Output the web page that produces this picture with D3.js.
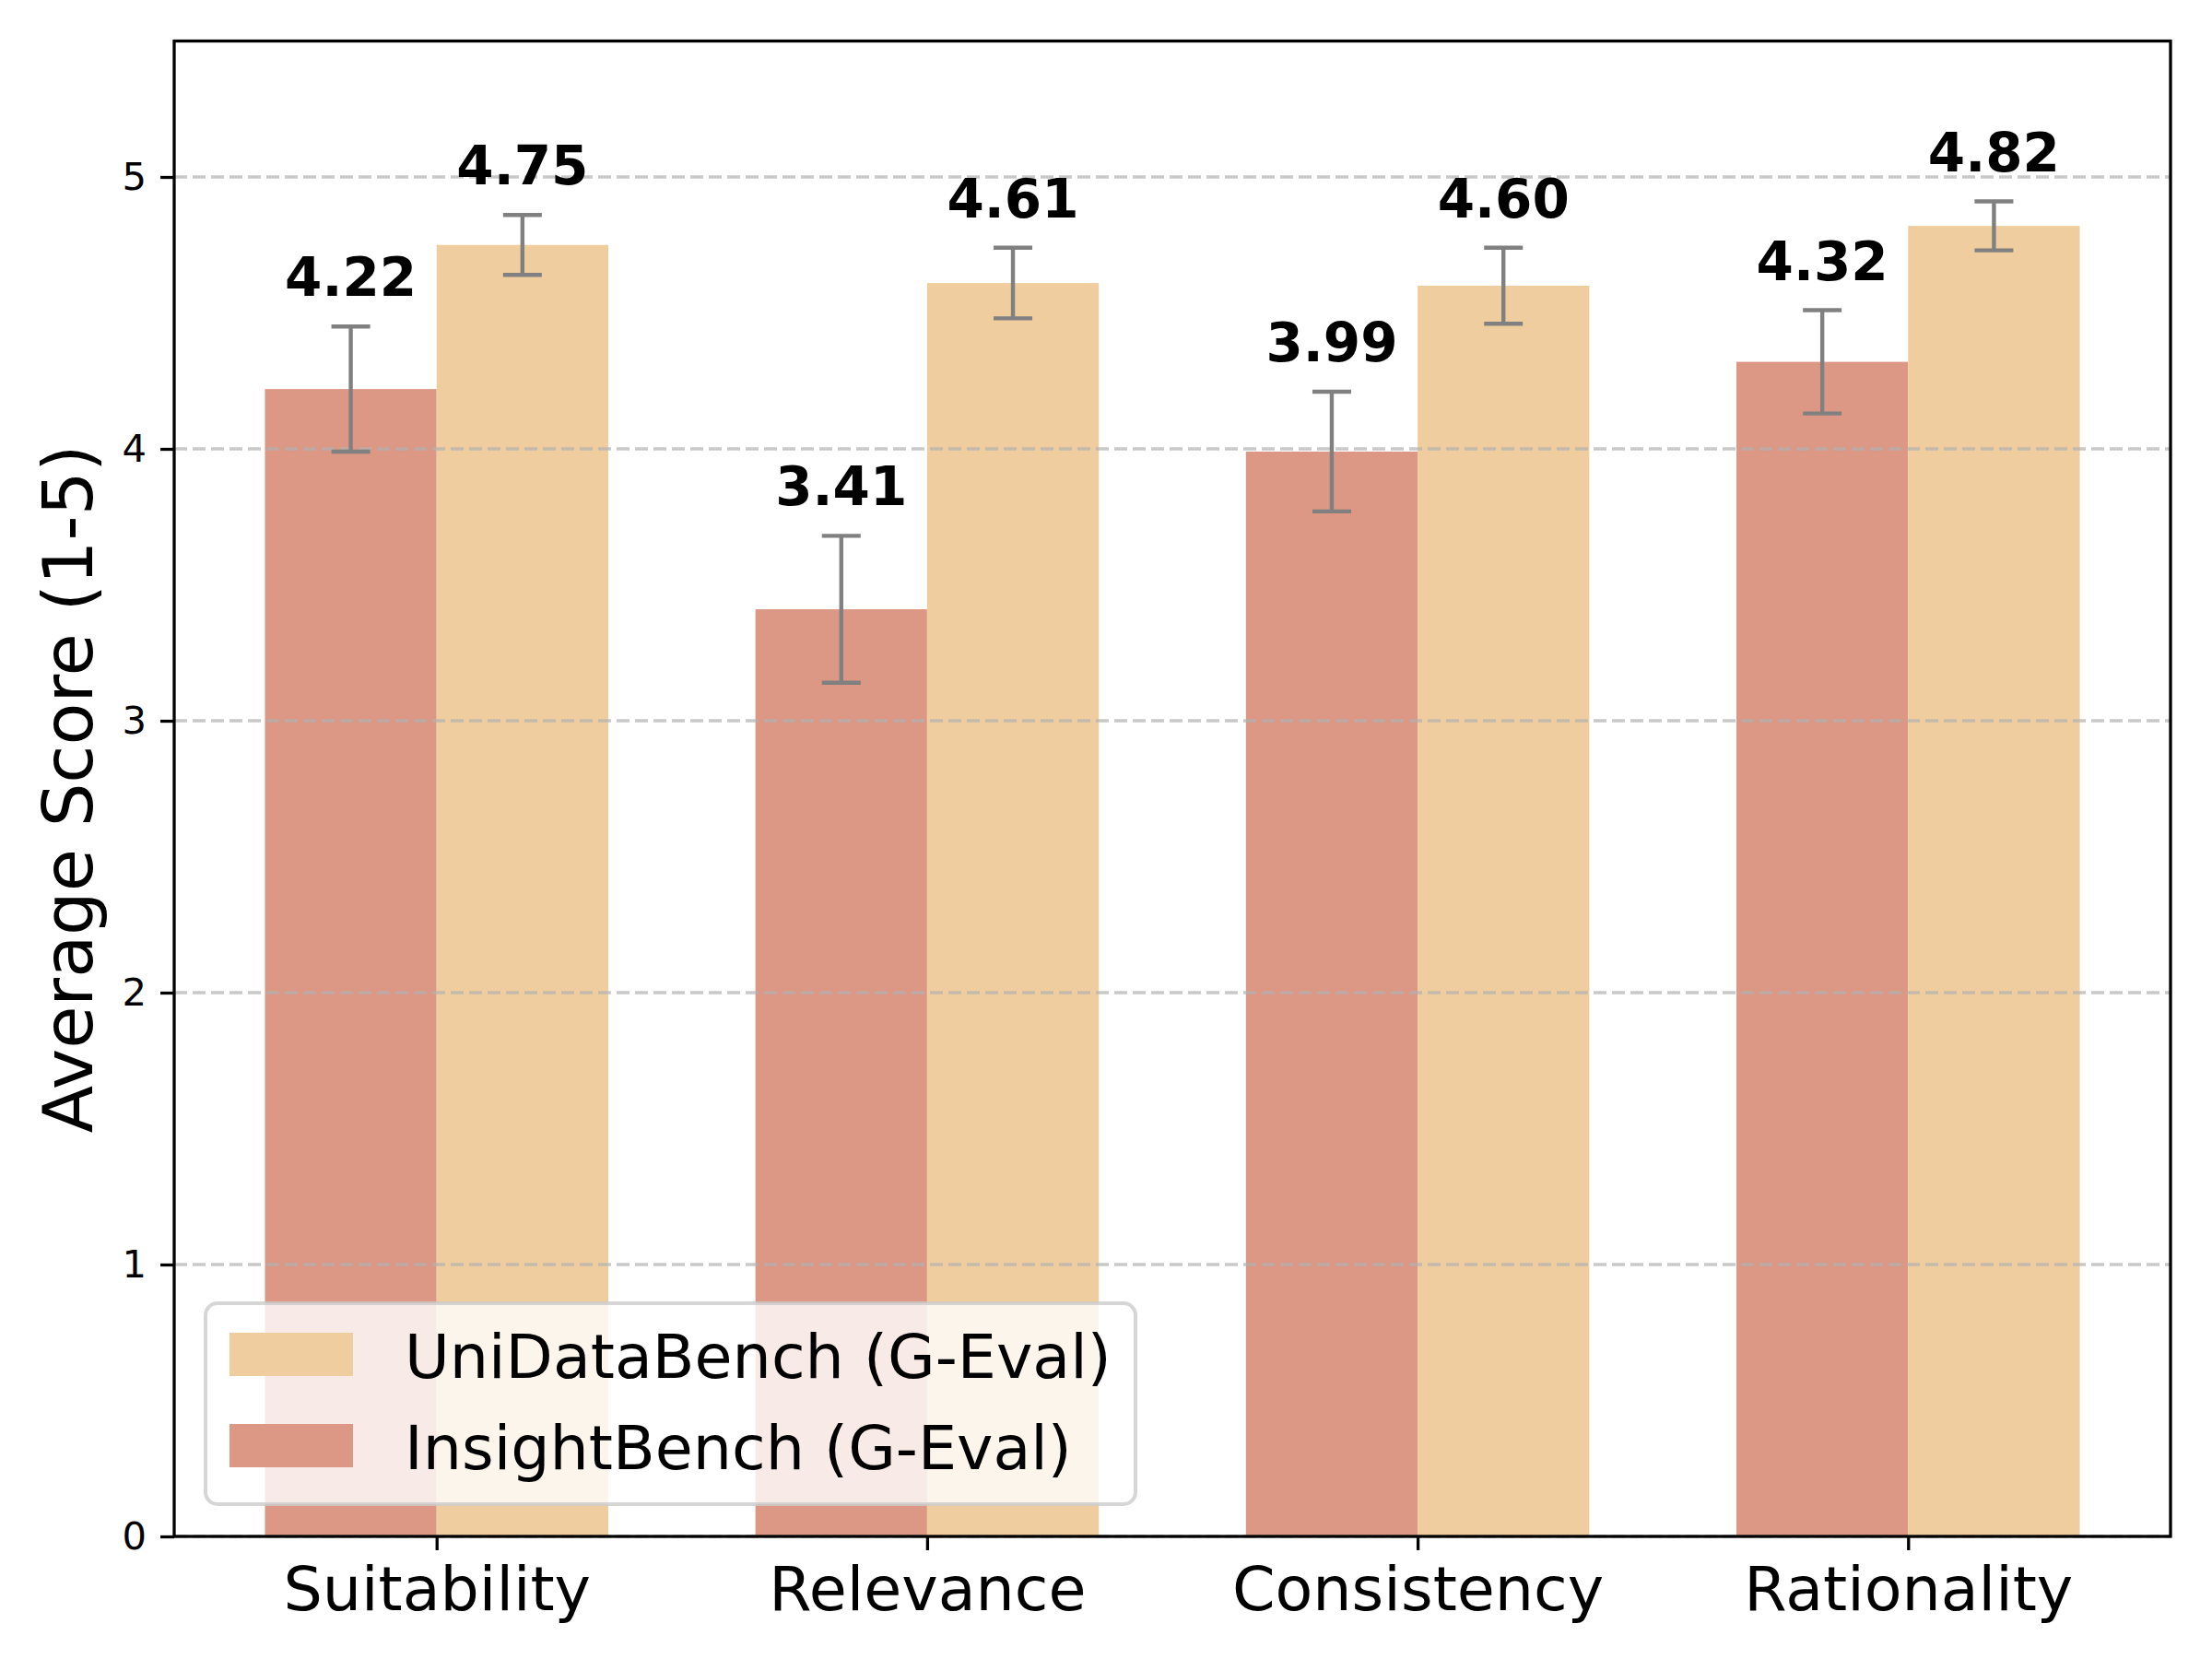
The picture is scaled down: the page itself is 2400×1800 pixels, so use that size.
<!DOCTYPE html>
<html>
<head>
<meta charset="utf-8">
<script src="https://cdn.jsdelivr.net/npm/d3@7"></script>
<style>
  body { margin: 0; background: #fff; }
  text { font-family: "DejaVu Sans", sans-serif; }
</style>
</head>
<body>
<div id="chart"></div>
<script>
const width = 2400;
const height = 1800;
const margin = {top: 44.5, right: 45, bottom: 133, left: 189};

const categories = ["Suitability", "Relevance", "Consistency", "Rationality"];
const insightScores = [4.22, 3.41, 3.99, 4.32];
const insightErr = [0.23, 0.27, 0.22, 0.19];
const uniScores = [4.75, 4.61, 4.60, 4.82];
const uniErr = [0.11, 0.13, 0.14, 0.09];
const yTicks = [0, 1, 2, 3, 4, 5];
const seriesNames = ["UniDataBench (G-Eval)", "InsightBench (G-Eval)"];

const red = "#dc9785";
const yellow = "#f0cd9e";
const barWidth = 0.35;

const svg = d3.select("#chart").append("svg")
  .attr("width", width)
  .attr("height", height);

const x = d3.scaleLinear().domain([-0.535, 3.535]).range([margin.left, width - margin.right]);
const y = d3.scaleLinear().domain([0, 5.5]).range([height - margin.bottom, margin.top]);

const series = [
  {name: seriesNames[1], values: insightScores, err: insightErr, color: red, offset: -barWidth},
  {name: seriesNames[0], values: uniScores, err: uniErr, color: yellow, offset: 0}
];

// bars
series.forEach(s => {
  svg.append("g").selectAll("rect")
    .data(s.values)
    .join("rect")
    .attr("x", (d, i) => x(i + s.offset))
    .attr("y", d => y(d))
    .attr("width", x(barWidth) - x(0))
    .attr("height", d => y(0) - y(d))
    .attr("fill", s.color);
});

// grid (on top of bars, like the original)
svg.append("g").selectAll("line")
  .data(yTicks)
  .join("line")
  .attr("x1", x.range()[0])
  .attr("x2", x.range()[1])
  .attr("y1", d => y(d))
  .attr("y2", d => y(d))
  .attr("stroke", "#b0b0b0")
  .attr("stroke-opacity", 0.7)
  .attr("stroke-width", 3.3)
  .attr("stroke-dasharray", "14 6");

// error bars + value labels
const capHalf = 21;
series.forEach(s => {
  const g = svg.append("g");
  s.values.forEach((v, i) => {
    const cx = x(i + s.offset + barWidth / 2);
    const e = s.err[i];
    g.append("line")
      .attr("x1", cx).attr("x2", cx)
      .attr("y1", y(v - e)).attr("y2", y(v + e))
      .attr("stroke", "#808080").attr("stroke-width", 4.4);
    [v - e, v + e].forEach(t => {
      g.append("line")
        .attr("x1", cx - capHalf).attr("x2", cx + capHalf)
        .attr("y1", y(t)).attr("y2", y(t))
        .attr("stroke", "#808080").attr("stroke-width", 4.4);
    });
    g.append("text")
      .attr("x", cx)
      .attr("y", y(v + e) - 33)
      .attr("text-anchor", "middle")
      .style("font-size", "58px")
      .style("font-weight", "bold")
      .attr("fill", "#000")
      .text(v.toFixed(2));
  });
});

// axes
const yAxis = svg.append("g")
  .attr("transform", `translate(${margin.left},0)`)
  .call(d3.axisLeft(y).tickValues(yTicks).tickFormat(d3.format("d")).tickSize(15).tickPadding(15));
yAxis.select(".domain").remove();
yAxis.selectAll(".tick line").attr("stroke-width", 3.3);
yAxis.selectAll(".tick text").style("font-size", "41.7px").attr("font-family", "DejaVu Sans").attr("fill", "#000");

const xAxis = svg.append("g")
  .attr("transform", `translate(0,${height - margin.bottom})`)
  .call(d3.axisBottom(x).tickValues(d3.range(categories.length)).tickFormat(i => categories[i]).tickSize(15).tickPadding(15));
xAxis.select(".domain").remove();
xAxis.selectAll(".tick line").attr("stroke-width", 3.3);
xAxis.selectAll(".tick text").style("font-size", "66.7px").attr("font-family", "DejaVu Sans").attr("dy", "0.75em").attr("fill", "#000");

// frame
svg.append("rect")
  .attr("x", x.range()[0])
  .attr("y", y.range()[1])
  .attr("width", x.range()[1] - x.range()[0])
  .attr("height", y.range()[0] - y.range()[1])
  .attr("fill", "none")
  .attr("stroke", "#000")
  .attr("stroke-width", 3.3);

// y label
svg.append("text")
  .attr("transform", `translate(74,${(y.range()[0] + y.range()[1]) / 2}) rotate(-90)`)
  .attr("text-anchor", "middle")
  .attr("dy", "0.35em")
  .style("font-size", "75px")
  .text("Average Score (1-5)");

// legend
const lgW = 1009, lgH = 218;
const lgX = x.range()[0] + 34;
const lgY = y.range()[0] - 35 - lgH;
const legend = svg.append("g").attr("transform", `translate(${lgX},${lgY})`);
legend.append("rect")
  .attr("width", lgW).attr("height", lgH)
  .attr("rx", 13).attr("ry", 13)
  .attr("fill", "#fff").attr("fill-opacity", 0.8)
  .attr("stroke", "#cccccc").attr("stroke-opacity", 0.8).attr("stroke-width", 4);

const legendItems = [
  {name: seriesNames[0], color: yellow},
  {name: seriesNames[1], color: red}
];
legendItems.forEach((d, i) => {
  const top = 32 + i * 99;
  legend.append("rect")
    .attr("x", 26).attr("y", top)
    .attr("width", 134).attr("height", 47)
    .attr("fill", d.color);
  legend.append("text")
    .attr("x", 216).attr("y", top + 49)
    .style("font-size", "66.7px")
    .text(d.name);
});
</script>
</body>
</html>
